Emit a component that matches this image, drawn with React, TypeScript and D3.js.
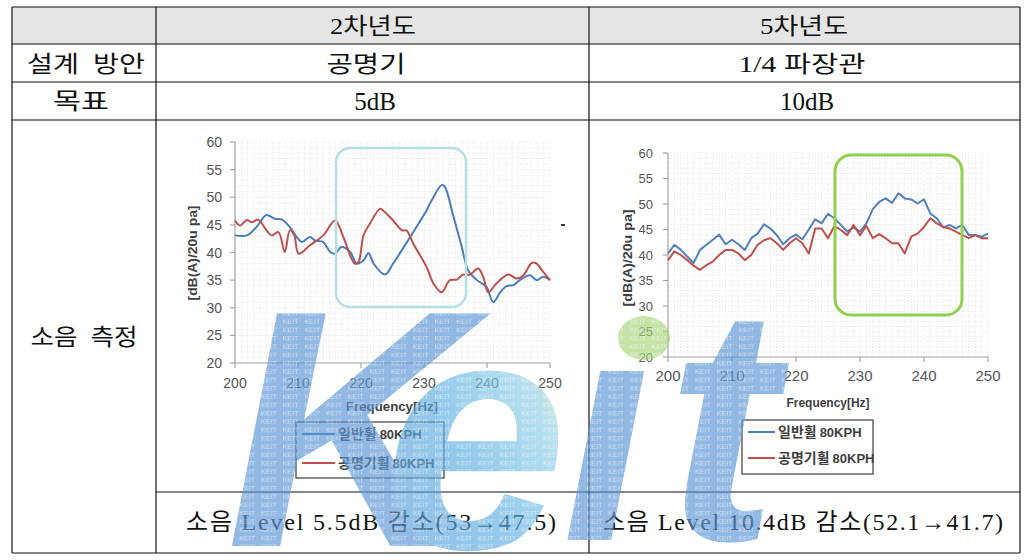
import React from 'react';
import * as d3 from 'd3';

// ---------- table texts ----------
const headerYears = ['2차년도', '5차년도'];
const rowLabels = ['설계 방안', '목표', '소음 측정'];
const designPlans = ['공명기', '1/4 파장관'];
const targets = ['5dB', '10dB'];
const results = ['소음 Level 5.5dB 감소(53→47.5)', '소음 Level 10.4dB 감소(52.1→41.7)'];

// ---------- chart texts / ticks ----------
const xTickValues = [200, 210, 220, 230, 240, 250];
const yTickValues = [20, 25, 30, 35, 40, 45, 50, 55, 60];
const seriesLabels = ['일반휠', '공명기휠'];
const seriesUnit = '80KPH';
const xAxisTitle = 'Frequency[Hz]';
const yAxisTitle = '[dB(A)/20u pa]';

// ---------- 2차년도 data ----------
const y2NormalFreq = [200, 201.9, 203.4, 205.0, 206.3, 207.4, 208.7, 209.8, 210.6, 211.9, 212.7, 214.0, 215.1, 215.9, 216.9, 218.3, 219.3, 220.4, 221.2, 222.0, 223.8, 225.1, 227.8, 230.4, 231.2, 232.8, 233.3, 234.7, 236.0, 237.0, 238.4, 239.9, 241.0, 242.1, 243.1, 244.2, 245.2, 246.8, 247.9, 248.9, 250];
const y2NormalDb = [43.1, 43.1, 44.6, 46.8, 46.1, 46.0, 44.6, 42.8, 41.9, 42.8, 42.2, 41.9, 40.1, 39.8, 41.0, 40.1, 38.0, 38.6, 39.9, 38.0, 36.0, 38.0, 42.8, 47.6, 49.4, 52.2, 51.9, 46.4, 41.0, 36.8, 35.0, 33.8, 31.0, 32.8, 33.9, 34.1, 35.0, 35.9, 35.0, 35.6, 35.0];
const y2ResonFreq = [200, 200.8, 201.9, 202.6, 203.7, 205.0, 205.8, 206.9, 207.9, 208.7, 209.4, 210.1, 211.9, 214.0, 215.9, 217.2, 219.0, 219.6, 220.4, 221.4, 223.0, 223.5, 225.1, 226.5, 227.2, 228.3, 230.4, 231.5, 232.8, 234.1, 235.2, 236.2, 237.3, 238.6, 239.4, 240.2, 241.5, 243.4, 244.7, 245.8, 247.1, 247.9, 248.7, 250];
const y2ResonDb = [45.8, 44.9, 45.9, 45.5, 45.9, 44.0, 43.1, 43.7, 40.1, 44.0, 43.1, 39.8, 41.3, 43.1, 45.8, 42.8, 38.0, 38.3, 43.1, 45.2, 47.9, 47.6, 45.8, 44.0, 44.0, 41.6, 37.4, 34.4, 32.8, 35.0, 35.1, 36.0, 36.0, 37.1, 35.6, 32.8, 34.4, 36.0, 35.3, 35.9, 38.1, 38.0, 36.8, 35.0];

// ---------- 5차년도 data ----------
const y5Freq = [200, 201, 202, 203, 204, 205, 206, 207, 208, 209, 210, 211, 212, 213, 214, 215, 216, 217, 218, 219, 220, 221, 222, 223, 224, 225, 226, 227, 228, 229, 230, 231, 232, 233, 234, 235, 236, 237, 238, 239, 240, 241, 242, 243, 244, 245, 246, 247, 248, 249, 250];
const y5NormalDb = [40.3, 42, 41, 39.7, 38.4, 41, 42, 43, 44, 42.1, 43, 42.1, 41, 43.3, 44.2, 46, 45.2, 43.9, 42.1, 43.3, 44, 43.1, 45, 47, 46.2, 48.1, 47.2, 45.9, 44.6, 45.4, 44.6, 46.2, 49, 50.4, 51.1, 50.2, 52.1, 51.1, 50.9, 50.1, 50.9, 48.1, 47.2, 45.4, 45.9, 45.2, 45.9, 43.9, 43.9, 43.6, 44.2];
const y5ResonDb = [39, 40.7, 40, 39, 37.9, 37.1, 38, 38.7, 40, 41, 41, 40.3, 39, 40, 42, 42.9, 43.3, 42.3, 41, 42.3, 43.3, 42.3, 40.3, 45.2, 45.2, 43.3, 45.7, 44.9, 43.9, 45.9, 43.9, 45.7, 43.3, 44.1, 43.3, 42.3, 42.3, 40.3, 43.6, 44.2, 45.5, 47.2, 46.2, 45.5, 45.2, 44.6, 43.9, 43.3, 43.9, 43.3, 43.3];

const SERIF = "'Liberation Serif', 'Noto Sans CJK KR', serif";
const SANS = "'Liberation Sans', 'Noto Sans CJK KR', sans-serif";
const KR = "'Noto Sans CJK KR', 'Liberation Sans', sans-serif";

type ChartProps = {
  xr: [number, number];
  yr: [number, number];
  blueF: number[]; blueV: number[];
  redF: number[]; redV: number[];
  blueColor: string; redColor: string;
  smooth: boolean;
  yLabelRight: number; xLabelBase: number;
  yTickFs: number; xTickFs: number;
  yTitlePos: [number, number, number];
  xTitlePos: [number, number, number];
  legend: { x: number; y: number; w: number; h: number; l0: number; l1: number; ly0: number; ly1: number; tx: number; tw0: number; tw1: number };
};

function Chart(p: ChartProps) {
  const x = d3.scaleLinear().domain([200, 250]).range(p.xr);
  const y = d3.scaleLinear().domain([20, 60]).range(p.yr);
  const curve = p.smooth ? d3.curveCatmullRom.alpha(0.5) : d3.curveLinear;
  const line = d3.line<[number, number]>().x(d => x(d[0])).y(d => y(d[1])).curve(curve);
  const blue = line(p.blueF.map((f, i) => [f, p.blueV[i]] as [number, number])) || '';
  const red = line(p.redF.map((f, i) => [f, p.redV[i]] as [number, number])) || '';
  const gx = x.ticks(50);
  const gy = y.ticks(40);
  const L = p.legend;
  return (
    <g>
      {gx.map(v => (
        <line key={'gx' + v} x1={x(v)} x2={x(v)} y1={y(20)} y2={y(60)} stroke="#e6e6e6" strokeWidth={0.8} strokeDasharray="1.5,1.5" />
      ))}
      {gy.map(v => (
        <line key={'gy' + v} x1={x(200)} x2={x(250)} y1={y(v)} y2={y(v)} stroke="#e6e6e6" strokeWidth={0.8} strokeDasharray="1.5,1.5" />
      ))}
      <line x1={x(200)} x2={x(200)} y1={y(20)} y2={y(60)} stroke="#a6a6a6" strokeWidth={1.2} />
      <line x1={x(200)} x2={x(250)} y1={y(20)} y2={y(20)} stroke="#a6a6a6" strokeWidth={1.2} />
      {yTickValues.map(v => (
        <g key={'yt' + v}>
          <line x1={x(200) - 5} x2={x(200)} y1={y(v)} y2={y(v)} stroke="#a6a6a6" strokeWidth={1.2} />
          <text x={p.yLabelRight} y={y(v)} dy="0.36em" textAnchor="end" fontSize={p.yTickFs} fontFamily={SANS} fill="#555">{v}</text>
        </g>
      ))}
      {xTickValues.map(v => (
        <g key={'xt' + v}>
          <line x1={x(v)} x2={x(v)} y1={y(20)} y2={y(20) + 5} stroke="#a6a6a6" strokeWidth={1.2} />
          <text x={x(v)} y={p.xLabelBase} textAnchor="middle" fontSize={p.xTickFs} fontFamily={SANS} fill="#555">{v}</text>
        </g>
      ))}
      <text transform={`translate(${p.yTitlePos[0]},${p.yTitlePos[1]}) rotate(-90)`} textAnchor="middle" dy="0.35em"
        fontSize={12} fontWeight="bold" fontFamily={SANS} fill="#404040" textLength={p.yTitlePos[2]} lengthAdjust="spacingAndGlyphs">{yAxisTitle}</text>
      <text x={p.xTitlePos[0]} y={p.xTitlePos[1]} textAnchor="middle" fontSize={12.5} fontWeight="bold" fontFamily={SANS} fill="#404040"
        textLength={p.xTitlePos[2]} lengthAdjust="spacingAndGlyphs">{xAxisTitle}</text>
      <path d={blue} fill="none" stroke={p.blueColor} strokeWidth={2} strokeLinejoin="round" />
      <path d={red} fill="none" stroke={p.redColor} strokeWidth={2} strokeLinejoin="round" />
      <rect x={L.x} y={L.y} width={L.w} height={L.h} fill="#fff" stroke="#4a4a4a" strokeWidth={1.3} />
      <line x1={L.l0} x2={L.l1} y1={L.ly0} y2={L.ly0} stroke={p.blueColor} strokeWidth={2} />
      <line x1={L.l0} x2={L.l1} y1={L.ly1} y2={L.ly1} stroke={p.redColor} strokeWidth={2} />
      <text x={L.tx} y={L.ly0} dy="0.36em" fontSize={14} fontWeight="bold" fontFamily={KR} fill="#404040">
        {seriesLabels[0]}<tspan dx={3} fontFamily={SANS} fontSize={13}>{seriesUnit}</tspan>
      </text>
      <text x={L.tx} y={L.ly1} dy="0.36em" fontSize={14} fontWeight="bold" fontFamily={KR} fill="#404040">
        {seriesLabels[1]}<tspan dx={3} fontFamily={SANS} fontSize={13}>{seriesUnit}</tspan>
      </text>
    </g>
  );
}

function WatermarkLetters({ solid, eFill, dot }: { solid: string; eFill: string; dot: string }) {
  const common = { fontFamily: "'Liberation Sans', sans-serif", fontWeight: 'bold' as const, fontStyle: 'italic' as const };
  return (
    <>
      <text x={226} y={546} fontSize={338} fill={solid} {...common}>K</text>
      <text x={384} y={548} fontSize={330} fill={eFill} {...common}>e</text>
      <text x={562} y={540} fontSize={320} fill={solid} {...common}>ı</text>
      <text x={666} y={540} fontSize={335} fill={solid} {...common}>t</text>
      <ellipse cx={644} cy={338} rx={26} ry={22} fill={dot} />
    </>
  );
}

export default function App() {
  const left = 12, c1 = 156, c2 = 589, right = 1020;
  const rows = [7, 44, 82, 120, 492, 553];
  return (
    <svg width={1031} height={560} style={{ position: 'absolute', left: 0, top: 0, background: '#fff' }}>
      <defs>
        <linearGradient id="eGrad" x1="0" y1="1" x2="1" y2="0">
          <stop offset="0" stopColor="#5a96d6" />
          <stop offset="0.45" stopColor="#5fb0e2" />
          <stop offset="0.7" stopColor="#8fd0e8" />
          <stop offset="0.9" stopColor="#e6e890" />
          <stop offset="1" stopColor="#f2e27a" />
        </linearGradient>
        <pattern id="keitPat" x={0} y={0} width={21.7} height={8.33} patternUnits="userSpaceOnUse">
          <text x={0.5} y={7} fontSize={7.2} fontFamily="'Liberation Sans', sans-serif" fill="#ffffff">KEIT</text>
        </pattern>
        <clipPath id="wmClip">
          <WatermarkLetters solid="#000" eFill="#000" dot="#000" />
        </clipPath>
      </defs>

      {/* header fill */}
      <rect x={left} y={rows[0]} width={right - left} height={rows[1] - rows[0]} fill="#e5e5e5" />

      {/* charts */}
      <Chart
        xr={[235, 550]} yr={[363, 142]}
        blueF={y2NormalFreq} blueV={y2NormalDb} redF={y2ResonFreq} redV={y2ResonDb}
        blueColor="#4a7ebb" redColor="#c0504d" smooth={true}
        yLabelRight={222} xLabelBase={388} yTickFs={14} xTickFs={14}
        yTitlePos={[193, 253, 95]} xTitlePos={[392, 411, 92]}
        legend={{ x: 296, y: 422, w: 148, h: 56, l0: 302, l1: 335, ly0: 434, ly1: 463, tx: 338, tw0: 87, tw1: 99 }}
      />
      <rect x={336} y={148} width={130} height={159} rx={14} fill="none" stroke="#b4e0e3" strokeWidth={2.5} />
      <line x1={561} x2={565} y1={225} y2={225} stroke="#333" strokeWidth={2} />

      <Chart
        xr={[668, 988]} yr={[357, 153]}
        blueF={y5Freq} blueV={y5NormalDb} redF={y5Freq} redV={y5ResonDb}
        blueColor="#4f81bd" redColor="#c0504d" smooth={false}
        yLabelRight={653} xLabelBase={381} yTickFs={13} xTickFs={15}
        yTitlePos={[628, 258, 97]} xTitlePos={[828, 407, 83]}
        legend={{ x: 742, y: 420, w: 131, h: 54, l0: 748, l1: 775, ly0: 432, ly1: 458, tx: 778, tw0: 77, tw1: 90 }}
      />
      <rect x={835} y={155} width={127} height={160} rx={16} fill="none" stroke="#8fd14f" strokeWidth={3} />

      {/* table lines */}
      {[0, 1, 2, 3, 5].map(i => (
        <line key={'h' + i} x1={left} x2={right} y1={rows[i]} y2={rows[i]} stroke="#111" strokeWidth={1.2} />
      ))}
      <line x1={c1} x2={right} y1={rows[4]} y2={rows[4]} stroke="#111" strokeWidth={1.2} />
      {[left, c1, c2, right].map((xv, i) => (
        <line key={'v' + i} x1={xv} x2={xv} y1={rows[0]} y2={rows[5]} stroke="#111" strokeWidth={1.2} />
      ))}

      {/* table texts */}
      <g fontFamily={SERIF} fontSize={23} fill="#111">
        <text x={373} y={26} dy="0.35em" textAnchor="middle" textLength={86} lengthAdjust="spacingAndGlyphs">{headerYears[0]}</text>
        <text x={804} y={26} dy="0.35em" textAnchor="middle" textLength={88} lengthAdjust="spacingAndGlyphs">{headerYears[1]}</text>
        <text x={86} y={64} dy="0.35em" textAnchor="middle" textLength={118} lengthAdjust="spacingAndGlyphs" xmlSpace="preserve">{'설계  방안'}</text>
        <text x={81} y={101} dy="0.35em" textAnchor="middle" textLength={56} lengthAdjust="spacingAndGlyphs">{rowLabels[1]}</text>
        <text x={84} y={337} dy="0.35em" textAnchor="middle" textLength={107} lengthAdjust="spacingAndGlyphs" xmlSpace="preserve">{'소음  측정'}</text>
        <text x={366} y={64} dy="0.35em" textAnchor="middle" textLength={79} lengthAdjust="spacingAndGlyphs">{designPlans[0]}</text>
        <text x={802} y={64} dy="0.35em" textAnchor="middle" textLength={127} lengthAdjust="spacingAndGlyphs">{designPlans[1]}</text>
        <text x={375} y={101} dy="0.35em" textAnchor="middle" fontSize={25}>{targets[0]}</text>
        <text x={807} y={101} dy="0.35em" textAnchor="middle" fontSize={25}>{targets[1]}</text>
        <text x={371} y={522} dy="0.35em" textAnchor="middle" fontSize={24} textLength={370} lengthAdjust="spacing" xmlSpace="preserve">{results[0]}</text>
        <text x={803} y={522} dy="0.35em" textAnchor="middle" fontSize={24} textLength={400} lengthAdjust="spacing" xmlSpace="preserve">{results[1]}</text>
      </g>

      {/* watermark */}
      <g opacity={0.66}>
        <WatermarkLetters solid="#5a96d6" eFill="url(#eGrad)" dot="#a8d47a" />
        <g clipPath="url(#wmClip)" opacity={0.55}>
          <rect x={200} y={290} width={620} height={270} fill="url(#keitPat)" />
        </g>
      </g>
    </svg>
  );
}
